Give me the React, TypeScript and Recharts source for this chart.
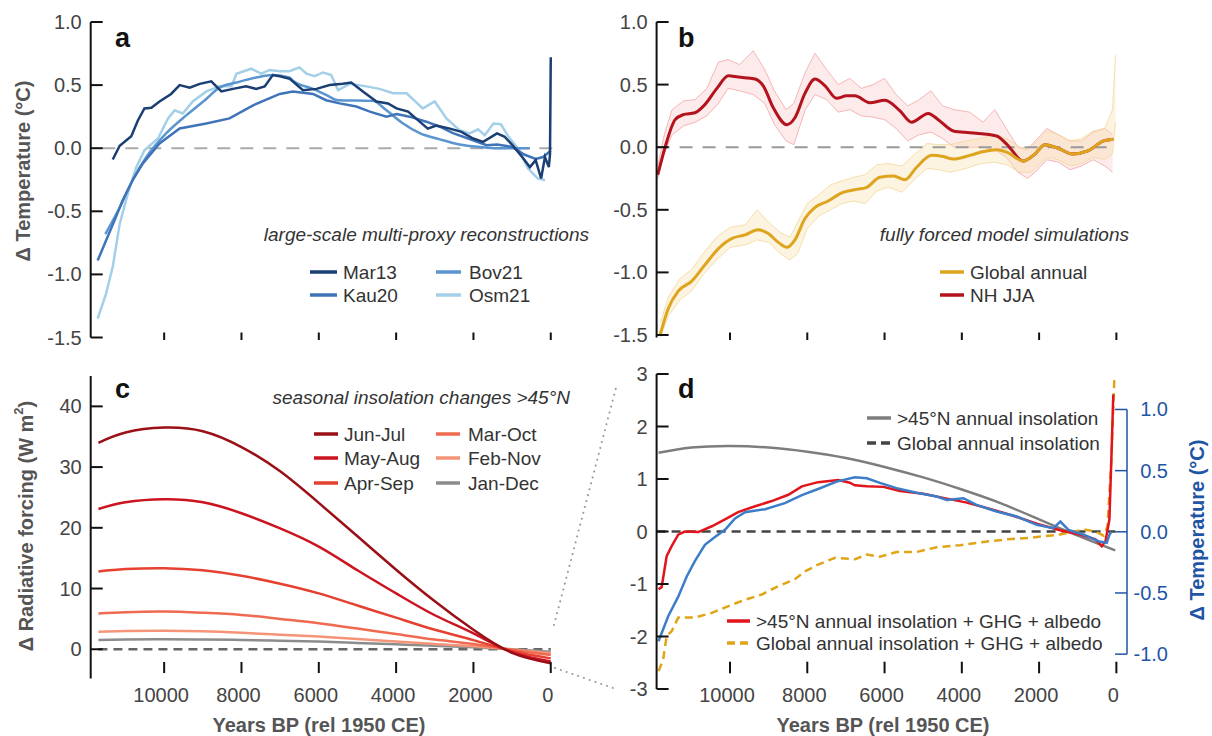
import React from "react";
import { ComposedChart, Line, Area, XAxis, YAxis, ReferenceLine } from "recharts";

const FONT = "'Liberation Sans', Arial, Helvetica, sans-serif";
const TICK_FILL = "#444";
const TEXT_FILL = "#333";
const X_TICKS = [10000, 8000, 6000, 4000, 2000, 0];
const X_DOMAIN = [-275, 11900];

// ---- panel a: large-scale multi-proxy reconstructions ----
const mar13Yr = [11330, 11150, 10850, 10680, 10510, 10330, 10120, 9820, 9600, 9340, 9080, 8780, 8520, 8220, 7880, 7620, 7400, 7190, 7010, 6750, 6410, 6060, 5720, 5380, 5160, 4860, 4510, 4210, 3990, 3690, 3430, 3180, 2960, 2610, 2310, 2010, 1750, 1390, 1190, 990, 740, 540, 390, 250, 150, 50, 20, 0];
const mar13 = [-0.09, 0.02, 0.095, 0.22, 0.315, 0.32, 0.37, 0.43, 0.5, 0.48, 0.51, 0.53, 0.45, 0.47, 0.49, 0.47, 0.49, 0.58, 0.57, 0.55, 0.46, 0.47, 0.5, 0.51, 0.52, 0.45, 0.37, 0.355, 0.315, 0.29, 0.22, 0.155, 0.18, 0.155, 0.13, 0.077, 0.05, 0.117, 0.09, 0.024, -0.07, -0.15, -0.095, -0.24, -0.07, -0.15, -0.05, 0.72];
const kau20Yr = [11720, 11500, 11280, 11070, 10810, 10550, 10120, 9600, 8910, 8310, 7700, 7010, 6670, 6150, 5810, 5460, 5030, 4680, 4250, 3990, 3650, 3220, 2870, 2530, 2010, 1660, 1390, 990, 690, 390, 200, 0];
const kau20 = [-0.89, -0.73, -0.57, -0.41, -0.25, -0.12, 0.037, 0.156, 0.196, 0.236, 0.34, 0.43, 0.45, 0.43, 0.38, 0.355, 0.33, 0.29, 0.25, 0.27, 0.25, 0.21, 0.17, 0.12, 0.063, 0.024, 0.03, 0.01, -0.05, -0.085, -0.07, -0.02];
const bov21Yr = [11520, 11150, 10810, 10460, 9950, 9430, 8910, 8570, 8130, 7620, 7190, 6760, 6670, 6150, 5800, 5500, 4600, 4250, 3820, 3390, 2870, 2360, 1840, 1400, 900, 540];
const bov21 = [-0.68, -0.47, -0.25, -0.07, 0.117, 0.26, 0.39, 0.48, 0.52, 0.56, 0.58, 0.56, 0.535, 0.47, 0.42, 0.38, 0.375, 0.3, 0.196, 0.12, 0.07, 0.03, 0.01, 0.0, 0.0, 0.0];
const osm21Yr = [11720, 11500, 11330, 11150, 10940, 10720, 10510, 10160, 9900, 9730, 9520, 9260, 8910, 8570, 8260, 8130, 7750, 7490, 7270, 7010, 6760, 6500, 6320, 6110, 5890, 5680, 5500, 5200, 4770, 4430, 4080, 3730, 3310, 3000, 2700, 2360, 2100, 1880, 1710, 1480, 1290, 1090, 840, 590, 340, 150];
const osm21 = [-1.35, -1.15, -0.94, -0.6, -0.36, -0.15, -0.016, 0.077, 0.236, 0.3, 0.275, 0.37, 0.45, 0.49, 0.49, 0.59, 0.63, 0.59, 0.62, 0.61, 0.61, 0.64, 0.59, 0.57, 0.6, 0.58, 0.46, 0.51, 0.49, 0.47, 0.435, 0.435, 0.315, 0.37, 0.236, 0.143, 0.117, 0.15, 0.103, 0.196, 0.19, 0.09, -0.005, -0.16, -0.24, -0.254];

// ---- panel b: fully forced model simulations ----
const nhYr = [11870, 11680, 11420, 11210, 10910, 10650, 10340, 10040, 9790, 9350, 9140, 8880, 8530, 8320, 8060, 7800, 7540, 7240, 6980, 6770, 6380, 5990, 5600, 5300, 4870, 4610, 4220, 3790, 3100, 2840, 2410, 2110, 1850, 1460, 1140, 740, 330, 80];
const nhJJA = [-0.22, 0.0, 0.22, 0.26, 0.275, 0.34, 0.47, 0.57, 0.56, 0.545, 0.49, 0.315, 0.18, 0.235, 0.43, 0.545, 0.49, 0.39, 0.41, 0.41, 0.355, 0.375, 0.29, 0.2, 0.27, 0.22, 0.13, 0.115, 0.09, 0.025, -0.11, -0.055, 0.02, -0.015, -0.055, -0.03, 0.05, 0.063];
const gaYr = [11810, 11600, 11340, 10990, 10650, 10300, 9960, 9610, 9270, 9010, 8750, 8530, 8320, 8060, 7800, 7460, 7110, 6770, 6460, 6120, 5770, 5470, 5170, 4780, 4480, 4220, 3790, 3440, 3100, 2840, 2410, 2110, 1850, 1460, 1140, 740, 330, 80];
const globalAnnual = [-1.5, -1.29, -1.15, -1.07, -0.94, -0.81, -0.73, -0.7, -0.66, -0.69, -0.76, -0.8, -0.74, -0.57, -0.48, -0.43, -0.365, -0.34, -0.32, -0.24, -0.23, -0.26, -0.16, -0.065, -0.075, -0.095, -0.065, -0.035, -0.02, -0.04, -0.11, -0.055, 0.02, -0.015, -0.055, -0.03, 0.05, 0.063];
// annual spread (envelope of the thin annual lines)
const nhNoiseYr = [11870, 11700, 11500, 11200, 10900, 10600, 10300, 10050, 9750, 9400, 9100, 8850, 8550, 8350, 8050, 7800, 7500, 7200, 6900, 6600, 6300, 6000, 5700, 5400, 5100, 4800, 4500, 4200, 3800, 3450, 3150, 2850, 2550, 2300, 2100, 1800, 1500, 1200, 900, 600, 300, 100];
const nhNoiseLo = [-0.25, -0.05, 0.1, 0.17, 0.2, 0.25, 0.35, 0.47, 0.45, 0.42, 0.35, 0.18, 0.05, 0.02, 0.3, 0.42, 0.38, 0.28, 0.3, 0.25, 0.24, 0.22, 0.15, 0.05, 0.1, 0.12, 0.07, 0.0, 0.0, 0.0, -0.02, -0.08, -0.2, -0.25, -0.2, -0.1, -0.12, -0.18, -0.15, -0.1, -0.15, -0.2];
const nhNoiseHi = [-0.15, 0.1, 0.3, 0.37, 0.38, 0.47, 0.68, 0.7, 0.66, 0.77, 0.62, 0.45, 0.3, 0.35, 0.6, 0.75, 0.62, 0.5, 0.55, 0.47, 0.5, 0.55, 0.42, 0.33, 0.38, 0.45, 0.33, 0.3, 0.28, 0.2, 0.3, 0.15, 0.0, -0.02, 0.05, 0.15, 0.1, 0.05, 0.05, 0.12, 0.15, 0.1];
const gaNoiseYr = [11800, 11600, 11300, 11000, 10700, 10350, 10000, 9600, 9300, 9000, 8700, 8450, 8250, 8000, 7700, 7400, 7100, 6800, 6500, 6200, 5900, 5550, 5200, 4900, 4600, 4300, 3900, 3500, 3150, 2850, 2500, 2200, 1800, 1500, 1200, 900, 600, 300, 100, 20];
const gaNoiseLo = [-1.52, -1.35, -1.22, -1.15, -1.02, -0.9, -0.8, -0.78, -0.74, -0.76, -0.85, -0.9, -0.85, -0.65, -0.55, -0.5, -0.45, -0.43, -0.45, -0.35, -0.32, -0.36, -0.25, -0.17, -0.18, -0.2, -0.17, -0.13, -0.12, -0.14, -0.2, -0.2, -0.08, -0.1, -0.15, -0.13, -0.08, -0.1, -0.05, 0.2];
const gaNoiseHi = [-1.4, -1.2, -1.05, -0.98, -0.85, -0.72, -0.64, -0.62, -0.5, -0.6, -0.68, -0.72, -0.6, -0.45, -0.38, -0.3, -0.27, -0.24, -0.22, -0.14, -0.13, -0.15, -0.05, 0.03, 0.02, 0.02, 0.05, 0.07, 0.1, 0.07, 0.0, 0.0, 0.13, 0.1, 0.05, 0.07, 0.13, 0.15, 0.3, 0.74];

// ---- panel c: seasonal insolation changes >45N (W m-2) ----
const insYr = [11700, 11000, 10000, 9000, 8000, 7000, 6000, 5000, 4000, 3000, 2000, 1000, 0];
const junJul = [34.0, 35.7, 36.5, 35.9, 33.3, 29.3, 24.1, 18.6, 13.1, 7.9, 3.2, -0.6, -2.3];
const mayAug = [23.1, 24.2, 24.7, 24.2, 22.4, 19.9, 16.9, 13.0, 9.2, 5.6, 2.6, -0.5, -2.0];
const aprSep = [12.8, 13.2, 13.35, 13.0, 12.1, 10.8, 9.2, 7.2, 5.2, 3.2, 1.5, -0.3, -1.5];
const marOct = [5.9, 6.1, 6.2, 6.0, 5.65, 5.0, 4.3, 3.4, 2.5, 1.6, 0.87, -0.1, -0.95];
const febNov = [2.9, 3.0, 3.05, 2.95, 2.7, 2.4, 2.08, 1.7, 1.26, 0.85, 0.5, -0.05, -0.66];
const janDec = [1.53, 1.6, 1.65, 1.6, 1.53, 1.42, 1.26, 1.05, 0.82, 0.57, 0.33, 0.0, -0.4];

// ---- panel d ----
const annInsYr = [11850, 11000, 10000, 9000, 8000, 7000, 6000, 5000, 4000, 3000, 2000, 1000, 30];
const annIns45 = [1.5, 1.6, 1.63, 1.6, 1.52, 1.4, 1.23, 1.03, 0.8, 0.54, 0.23, -0.08, -0.36];
const redYr = [11850, 11770, 11640, 11510, 11340, 11170, 10820, 10470, 10130, 9790, 9350, 8920, 8490, 8140, 7720, 7200, 6900, 6770, 6460, 6030, 5600, 5000, 4480, 3870, 3270, 2670, 2060, 1460, 940, 540, 380, 280, 180, 130, 80];
const ins45Ghg = [-1.1, -1.06, -0.47, -0.28, -0.06, 0.0, -0.01, 0.1, 0.23, 0.37, 0.48, 0.58, 0.7, 0.86, 0.94, 0.98, 0.93, 0.88, 0.86, 0.85, 0.77, 0.72, 0.64, 0.55, 0.43, 0.3, 0.15, 0.025, -0.057, -0.15, -0.28, -0.18, 0.23, 1.37, 2.61];
const goldYr = [11850, 11730, 11640, 11510, 11340, 10910, 10470, 10040, 9610, 9180, 8750, 8320, 8060, 7720, 7280, 6770, 6460, 6120, 5690, 5170, 4650, 4050, 3440, 2840, 2240, 1460, 840, 540, 330, 230, 130, 50];
const globGhg = [-2.66, -2.44, -1.99, -1.9, -1.64, -1.64, -1.55, -1.42, -1.3, -1.2, -1.04, -0.91, -0.76, -0.63, -0.5, -0.53, -0.44, -0.48, -0.39, -0.39, -0.3, -0.26, -0.2, -0.15, -0.12, -0.057, 0.04, 0.0, -0.08, 0.1, 1.37, 2.96];
const blueYr = [11850, 11600, 11340, 11120, 10910, 10650, 10390, 10130, 9870, 9610, 9090, 8580, 8140, 7720, 7240, 6770, 6460, 6120, 5690, 5170, 4650, 4390, 3960, 3620, 3100, 2580, 2060, 1630, 1450, 1240, 840, 440, 250, 180, 130];
const blueTemp = [-0.895, -0.69, -0.53, -0.365, -0.24, -0.106, -0.043, 0.016, 0.11, 0.16, 0.185, 0.234, 0.3, 0.35, 0.41, 0.446, 0.438, 0.4, 0.357, 0.32, 0.288, 0.26, 0.275, 0.22, 0.166, 0.125, 0.057, 0.03, 0.084, 0.016, -0.024, -0.08, -0.09, -0.024, 0.0];

const pts = (yr: number[], v: number[]) => yr.map((y, i) => ({ yr: y, v: v[i] }));
const band = (yr: number[], lo: number[], hi: number[]) => yr.map((y, i) => ({ yr: y, r: [lo[i], hi[i]] }));

const leftTick = (fmt: (v: number) => string) => (props: any) => {
  const { x, y, payload } = props;
  return (
    <g>
      <line x1={x} x2={x + 12} y1={y} y2={y} stroke="#111" strokeWidth={2} />
      <text x={x - 9} y={y} dy="0.35em" textAnchor="end" fontSize={20} fill={TICK_FILL} fontFamily={FONT}>
        {fmt(payload.value)}
      </text>
    </g>
  );
};

const rightTick = (props: any) => {
  const { x, y, payload } = props;
  return (
    <g>
      <line x1={x - 12} x2={x} y1={y} y2={y} stroke="#1f55a5" strokeWidth={1.5} />
      <text x={x + 41} y={y} dy="0.35em" textAnchor="end" fontSize={20} fill="#1f55a5" fontFamily={FONT}>
        {payload.value.toFixed(1)}
      </text>
    </g>
  );
};

const bottomTick = (t1: number, t2: number, ly: number, show: boolean) => (props: any) => {
  const { x, y, payload } = props;
  return (
    <g>
      <line x1={x} x2={x} y1={y + t1} y2={y + t2} stroke="#111" strokeWidth={2} />
      {show && (
        <text x={x - 3} y={y + ly} dy="0.35em" textAnchor="middle" fontSize={20} fill={TICK_FILL} fontFamily={FONT}>
          {payload.value}
        </text>
      )}
    </g>
  );
};

const xAxisProps = {
  type: "number" as const,
  dataKey: "yr",
  domain: X_DOMAIN,
  reversed: true,
  ticks: X_TICKS,
  interval: 0 as const,
  allowDataOverflow: true,
  axisLine: false,
  tickLine: false,
  tickSize: 0,
  tickMargin: 0,
};

const f1 = (v: number) => v.toFixed(1);

function PanelA() {
  return (
    <ComposedChart width={600} height={360} margin={{ top: 22, right: 38.6, bottom: 2.5, left: 30.7 }}>
      <XAxis {...xAxisProps} height={20} tick={bottomTick(-5, 2.5, 0, false)} />
      <YAxis type="number" width={60} domain={[-1.5, 1.0]} ticks={[1, 0.5, 0, -0.5, -1, -1.5]} interval={0}
        axisLine={{ stroke: "#111", strokeWidth: 2 }} tickLine={false} tickSize={0} tickMargin={0} tick={leftTick(f1)} />
      <ReferenceLine segment={[{ x: 11600, y: 0 }, { x: -50, y: 0 }]} stroke="#aaa" strokeWidth={2} strokeDasharray="13 10" />
      <Line data={pts(osm21Yr, osm21)} dataKey="v" stroke="#a3cfe8" strokeWidth={2.5} dot={false} type="linear" isAnimationActive={false} />
      <Line data={pts(bov21Yr, bov21)} dataKey="v" stroke="#5a95cf" strokeWidth={2.5} dot={false} type="monotone" isAnimationActive={false} />
      <Line data={pts(kau20Yr, kau20)} dataKey="v" stroke="#3f74b9" strokeWidth={2.5} dot={false} type="linear" isAnimationActive={false} />
      <Line data={pts(mar13Yr, mar13)} dataKey="v" stroke="#1b3f73" strokeWidth={2.5} dot={false} type="linear" isAnimationActive={false} />
    </ComposedChart>
  );
}

function PanelB() {
  return (
    <ComposedChart width={612} height={360} margin={{ top: 22, right: 85, bottom: 2.5, left: 16.6 }}>
      <XAxis {...xAxisProps} height={20} tick={bottomTick(-5, 2.5, 0, false)} />
      <YAxis type="number" width={40} domain={[-1.5, 1.0]} ticks={[1, 0.5, 0, -0.5, -1, -1.5]} interval={0}
        axisLine={{ stroke: "#111", strokeWidth: 2 }} tickLine={false} tickSize={0} tickMargin={0} tick={leftTick(f1)} />
      <Area data={band(nhNoiseYr, nhNoiseLo, nhNoiseHi)} dataKey="r" type="linear" stroke="#f3a6a6" strokeWidth={0.8}
        fill="#f7b9b9" fillOpacity={0.3} isAnimationActive={false} />
      <Area data={band(gaNoiseYr, gaNoiseLo, gaNoiseHi)} dataKey="r" type="linear" stroke="#f2d899" strokeWidth={0.8}
        fill="#f5e0a8" fillOpacity={0.35} isAnimationActive={false} />
      <ReferenceLine segment={[{ x: 11900, y: 0 }, { x: 30, y: 0 }]} stroke="#999" strokeWidth={2} strokeDasharray="13 10" />
      <Line data={pts(nhYr, nhJJA)} dataKey="v" stroke="#b3131d" strokeWidth={3} dot={false} type="monotone" isAnimationActive={false} />
      <Line data={pts(gaYr, globalAnnual)} dataKey="v" stroke="#dea41d" strokeWidth={3} dot={false} type="monotone" isAnimationActive={false} />
    </ComposedChart>
  );
}

function PanelC() {
  const series: [number[], string][] = [
    [janDec, "#8c8c8c"],
    [febNov, "#f59478"],
    [marOct, "#ef6a50"],
    [aprSep, "#e54030"],
    [mayAug, "#cc1420"],
    [junJul, "#9b0f16"],
  ];
  return (
    <ComposedChart width={600} height={376} margin={{ top: 16, right: 38.6, bottom: 17.6, left: 30.7 }}>
      <XAxis {...xAxisProps} height={40} tick={bottomTick(-16.4, -5.4, 16.6, true)} />
      <YAxis type="number" width={60} domain={[-4.8, 45]} ticks={[0, 10, 20, 30, 40]} interval={0}
        axisLine={{ stroke: "#111", strokeWidth: 2 }} tickLine={false} tickSize={0} tickMargin={0} tick={leftTick((v) => String(v))} />
      <ReferenceLine segment={[{ x: 11700, y: 0 }, { x: 0, y: 0 }]} stroke="#666" strokeWidth={2.5} strokeDasharray="9 6" />
      {series.map(([vals, c], i) => (
        <Line key={i} data={pts(insYr, vals)} dataKey="v" stroke={c} strokeWidth={2.5} dot={false} type="natural" isAnimationActive={false} />
      ))}
    </ComposedChart>
  );
}

function PanelD() {
  return (
    <ComposedChart width={612} height={376} margin={{ top: 14, right: 25, bottom: 7, left: 16.6 }}>
      <XAxis {...xAxisProps} height={40} tick={bottomTick(-27.3, -15.7, 6, true)} />
      <YAxis yAxisId="l" type="number" width={40} domain={[-3, 3]} ticks={[3, 2, 1, 0, -1, -2, -3]} interval={0} allowDataOverflow
        axisLine={{ stroke: "#111", strokeWidth: 2 }} tickLine={false} tickSize={0} tickMargin={0} tick={leftTick((v) => String(v))} />
      <YAxis yAxisId="r" orientation="right" type="number" width={60} domain={[-1.285, 1.29]} ticks={[1, 0.5, 0, -0.5, -1]} interval={0}
        allowDataOverflow axisLine={false} tickLine={false} tickSize={0} tickMargin={0} tick={rightTick} />
      <ReferenceLine yAxisId="r" segment={[{ x: -275, y: -1 }, { x: -275, y: 1 }]} stroke="#1f55a5" strokeWidth={1.5} ifOverflow="visible" />
      <ReferenceLine yAxisId="l" segment={[{ x: 11900, y: 0 }, { x: 30, y: 0 }]} stroke="#444" strokeWidth={2.5} strokeDasharray="9 6" />
      <Line yAxisId="l" data={pts(annInsYr, annIns45)} dataKey="v" stroke="#7d7d7d" strokeWidth={2.5} dot={false} type="natural" isAnimationActive={false} />
      <Line yAxisId="l" data={pts(goldYr, globGhg)} dataKey="v" stroke="#e0a416" strokeWidth={2.5} strokeDasharray="8 5" dot={false} type="linear" isAnimationActive={false} />
      <Line yAxisId="l" data={pts(redYr, ins45Ghg)} dataKey="v" stroke="#e2141c" strokeWidth={2.5} dot={false} type="linear" isAnimationActive={false} />
      <Line yAxisId="r" data={pts(blueYr, blueTemp)} dataKey="v" stroke="#3b7dc8" strokeWidth={2.5} dot={false} type="linear" isAnimationActive={false} />
    </ComposedChart>
  );
}

const T = (p: { x: number; y: number; children: React.ReactNode; size?: number; anchor?: "start" | "middle" | "end"; italic?: boolean; bold?: boolean; fill?: string }) => (
  <text x={p.x} y={p.y} fontSize={p.size ?? 19} textAnchor={p.anchor ?? "start"} fontStyle={p.italic ? "italic" : "normal"}
    fontWeight={p.bold ? "bold" : "normal"} fill={p.fill ?? TEXT_FILL} fontFamily={FONT}>
    {p.children}
  </text>
);

const Sw = ({ x1, x2, y, c, dash }: { x1: number; x2: number; y: number; c: string; dash?: string }) => (
  <line x1={x1} x2={x2} y1={y} y2={y} stroke={c} strokeWidth={3.5} strokeDasharray={dash} />
);

function Overlay() {
  const rot = (cx: number, cy: number) => `rotate(-90 ${cx} ${cy})`;
  return (
    <svg width={1212} height={736} style={{ position: "absolute", left: 0, top: 0, pointerEvents: "none" }}>
      {/* zoom connectors */}
      <line x1={554} y1={625} x2={617} y2={384} stroke="#999" strokeWidth={2} strokeDasharray="0.1 6" strokeLinecap="round" />
      <line x1={555} y1={668} x2={613} y2={688} stroke="#999" strokeWidth={2} strokeDasharray="0.1 6" strokeLinecap="round" />

      {/* panel letters */}
      <T x={115} y={47} size={27} bold fill="#111">a</T>
      <T x={678} y={47} size={27} bold fill="#111">b</T>
      <T x={115} y={398} size={27} bold fill="#111">c</T>
      <T x={678} y={398} size={27} bold fill="#111">d</T>

      {/* axis titles */}
      <text x={23} y={171} transform={rot(23, 171)} textAnchor="middle" dominantBaseline="central" fontSize={20} fontWeight="bold" fill="#555" fontFamily={FONT}>
        Δ Temperature (°C)
      </text>
      <text x={26} y={526} transform={rot(26, 526)} textAnchor="middle" dominantBaseline="central" fontSize={20} fontWeight="bold" fill="#555" fontFamily={FONT}>
        Δ Radiative forcing (W m<tspan dy={-8} fontSize={13}>2</tspan><tspan dy={8}>)</tspan>
      </text>
      <text x={1197} y={530} transform={rot(1197, 530)} textAnchor="middle" dominantBaseline="central" fontSize={20} fontWeight="bold" fill="#1f55a5" fontFamily={FONT}>
        Δ Temperature (°C)
      </text>
      <T x={319} y={732} size={20} bold anchor="middle" fill="#555">Years BP (rel 1950 CE)</T>
      <T x={883} y={732} size={20} bold anchor="middle" fill="#555">Years BP (rel 1950 CE)</T>

      {/* panel a annotations */}
      <T x={589} y={241} italic anchor="end">large-scale multi-proxy reconstructions</T>
      <Sw x1={310} x2={337} y={272} c="#1b3f73" />
      <T x={343} y={279}>Mar13</T>
      <Sw x1={310} x2={337} y={295} c="#3f74b9" />
      <T x={343} y={302}>Kau20</T>
      <Sw x1={436} x2={461} y={272} c="#5a95cf" />
      <T x={469} y={279}>Bov21</T>
      <Sw x1={436} x2={461} y={295} c="#a3cfe8" />
      <T x={469} y={302}>Osm21</T>

      {/* panel b annotations */}
      <T x={1129} y={241} italic anchor="end">fully forced model simulations</T>
      <Sw x1={940} x2={964} y={272} c="#dea41d" />
      <T x={970} y={279}>Global annual</T>
      <Sw x1={940} x2={964} y={295} c="#b3131d" />
      <T x={970} y={302}>NH JJA</T>

      {/* panel c annotations */}
      <T x={570} y={404} italic anchor="end">seasonal insolation changes &gt;45°N</T>
      <Sw x1={314} x2={338} y={434} c="#9b0f16" />
      <T x={344} y={441}>Jun-Jul</T>
      <Sw x1={314} x2={338} y={458} c="#cc1420" />
      <T x={344} y={465}>May-Aug</T>
      <Sw x1={314} x2={338} y={483} c="#e54030" />
      <T x={344} y={490}>Apr-Sep</T>
      <Sw x1={436} x2={460} y={434} c="#ef6a50" />
      <T x={468} y={441}>Mar-Oct</T>
      <Sw x1={436} x2={460} y={458} c="#f59478" />
      <T x={468} y={465}>Feb-Nov</T>
      <Sw x1={436} x2={460} y={483} c="#8c8c8c" />
      <T x={468} y={490}>Jan-Dec</T>

      {/* panel d annotations */}
      <Sw x1={867} x2={891} y={418} c="#7d7d7d" />
      <T x={897} y={425}>&gt;45°N annual insolation</T>
      <Sw x1={867} x2={891} y={443} c="#444" dash="9 5" />
      <T x={897} y={450}>Global annual insolation</T>
      <Sw x1={727} x2={750} y={621} c="#e2141c" />
      <T x={756} y={628}>&gt;45°N annual insolation + GHG + albedo</T>
      <Sw x1={727} x2={750} y={643} c="#e0a416" dash="8 5" />
      <T x={756} y={650}>Global annual insolation + GHG + albedo</T>
    </svg>
  );
}

export default function App() {
  const box = (l: number, t: number): React.CSSProperties => ({ position: "absolute", left: l, top: t });
  return (
    <div style={{ position: "absolute", left: 0, top: 0, width: 1212, height: 736, background: "#fff", fontFamily: FONT }}>
      <div style={box(0, 0)}><PanelA /></div>
      <div style={box(600, 0)}><PanelB /></div>
      <div style={box(0, 360)}><PanelC /></div>
      <div style={box(600, 360)}><PanelD /></div>
      <Overlay />
    </div>
  );
}
